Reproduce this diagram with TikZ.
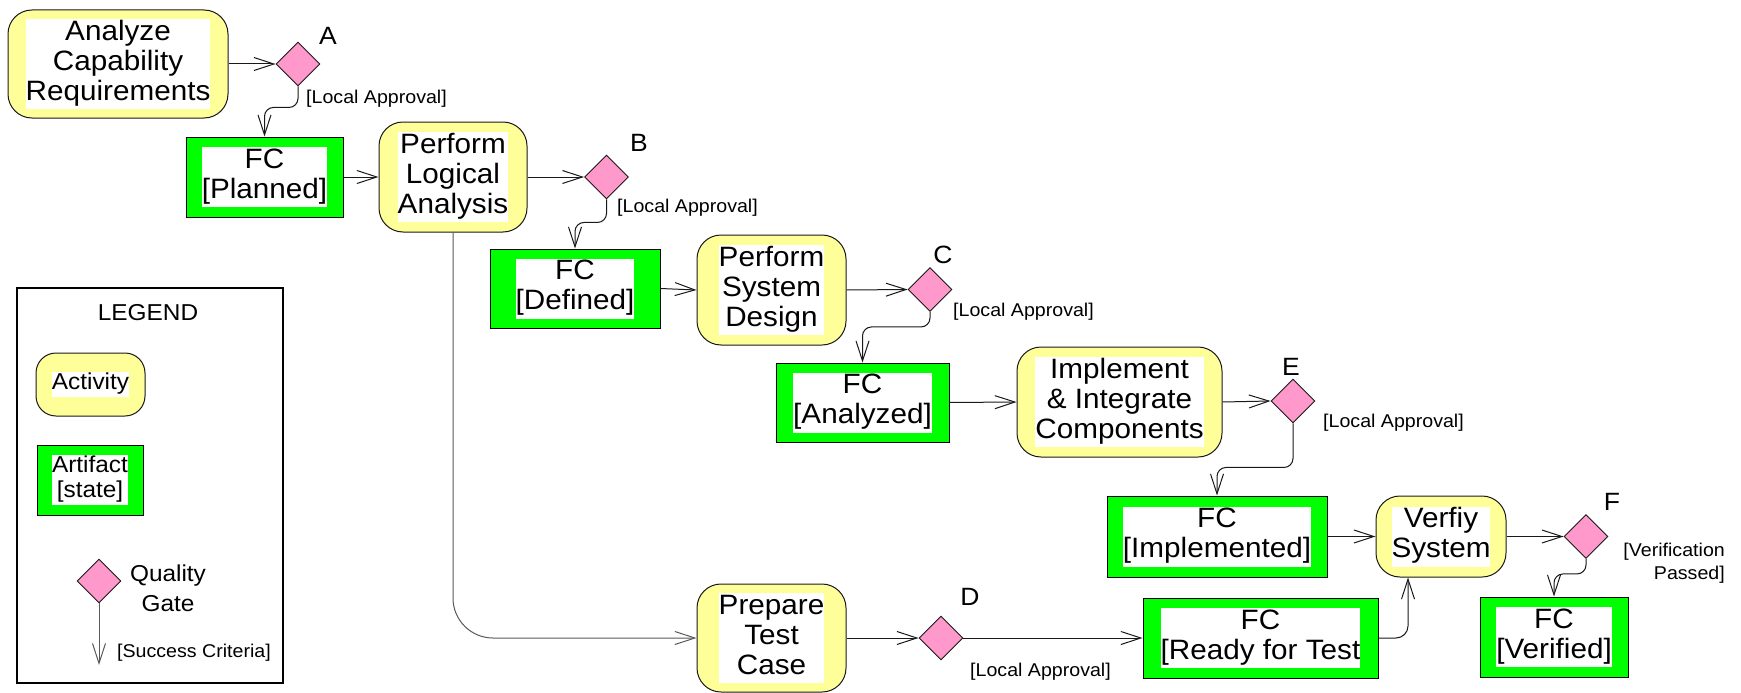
\documentclass[tikz,border=0pt]{standalone}
\usepackage{fontspec}
\setmainfont{Liberation Sans}[FakeStretch=1.06]
\usetikzlibrary{arrows.meta,shapes.geometric}
\definecolor{actyellow}{RGB}{255,255,153}
\definecolor{artgreen}{RGB}{0,255,0}
\definecolor{gatepink}{RGB}{255,153,204}
\newcommand{\wbox}[1]{{\setlength{\fboxsep}{0pt}\colorbox{white}{\begin{tabular}{@{}c@{}}#1\end{tabular}}}}

\begin{document}
\begin{tikzpicture}[x=1pt,y=-1pt]
                \tikzstyle{every node}+=[inner sep=0pt]
                \tikzstyle{activity}=[draw=black!90, line width=1pt, fill=actyellow, rounded corners=24pt, font=\fontsize{28}{30}\selectfont]
                \tikzstyle{artifact}=[draw=black, line width=1pt, fill=artgreen, font=\fontsize{28}{30}\selectfont]
                \tikzstyle{gate}=[diamond, draw=black!90, line width=0.9pt, fill=gatepink, minimum size=44pt]
                \tikzstyle{gateletter}=[font=\fontsize{25}{30}\selectfont]
                \tikzstyle{criteria}=[anchor=west, font=\fontsize{18.5}{23}\selectfont]
                \tikzstyle{flow}=[draw=black!90, line width=1pt, -{Straight Barb[length=20pt,width=13pt]}]
                \useasboundingbox (0,0) rectangle (1741,693);
                % activities
                \node [activity, minimum width=220pt, minimum height=108pt] (acr) at (118,64) {\wbox{Analyze\\Capability\\Requirements}};
                \node [activity, minimum width=148pt, minimum height=110pt] (pla) at (453,177) {\wbox{Perform\\Logical\\Analysis}};
                \node [activity, minimum width=149pt, minimum height=110pt] (psd) at (771.5,290) {\wbox{Perform\\System\\Design}};
                \node [activity, minimum width=205pt, minimum height=110pt] (iic) at (1119.5,402) {\wbox{Implement\\\& Integrate\\Components}};
                \node [activity, minimum width=130pt, minimum height=81pt] (vs) at (1441,536.5) {\wbox{Verfiy\\System}};
                \node [activity, minimum width=149pt, minimum height=108pt] (ptc) at (771.5,638) {\wbox{Prepare\\Test\\Case}};
                % artifacts
                \node [artifact, minimum width=157pt, minimum height=80pt] (fcp) at (264.5,177) {\wbox{FC\\{[Planned]}}};
                \node [artifact, minimum width=170pt, minimum height=79pt] (fcd) at (575,288.5) {\wbox{FC\\{[Defined]}}};
                \node [artifact, minimum width=173pt, minimum height=79pt] (fca) at (862.5,402.5) {\wbox{FC\\{[Analyzed]}}};
                \node [artifact, minimum width=220pt, minimum height=81pt] (fci) at (1217,536.5) {\wbox{FC\\{[Implemented]}}};
                \node [artifact, minimum width=235pt, minimum height=80pt] (fcr) at (1260.5,638) {\wbox{FC\\{[Ready for Test}}};
                \node [artifact, minimum width=148pt, minimum height=80pt] (fcv) at (1554,637) {\wbox{FC\\{[Verified]}}};
                % quality gates
                \node [gate] (gA) at (298,64) {};
                \node [gate] (gB) at (606.5,177) {};
                \node [gate] (gC) at (930,289.5) {};
                \node [gate] (gD) at (941,638) {};
                \node [gate] (gE) at (1293,401) {};
                \node [gate] (gF) at (1586,536.5) {};
                \node [gateletter] (lA) at (328,36) {A};
                \node [gateletter] (lB) at (639,143) {B};
                \node [gateletter] (lC) at (943,255) {C};
                \node [gateletter] (lD) at (970,597) {D};
                \node [gateletter] (lE) at (1291,367) {E};
                \node [gateletter] (lF) at (1612,502) {F};
                \node [criteria] (cA) at (306,99) {[Local Approval]};
                \node [criteria] (cB) at (617,208) {[Local Approval]};
                \node [criteria] (cC) at (953,312) {[Local Approval]};
                \node [criteria] (cD) at (970,672) {[Local Approval]};
                \node [criteria] (cE) at (1323,423) {[Local Approval]};
                \node [anchor=east, align=right, font=\fontsize{18.5}{23}\selectfont] (cF) at (1725,563) {[Verification\\Passed]};
                % flows
                \draw [flow] (acr.east) -- (gA.west);
                \draw [flow, rounded corners=9pt] (gA.south) -- ++(0,21) -| (fcp.north);
                \draw [flow] (fcp.east) -- (pla.west);
                \draw [flow] (pla.east) -- (gB.west);
                \draw [flow, rounded corners=9pt] (gB.south) -- ++(0,23) -| (fcd.north);
                \draw [flow] (fcd.east) -- (psd.west);
                \draw [flow] (psd.east) -- (gC.west);
                \draw [flow, rounded corners=9pt] (gC.south) -- ++(0,15) -| (fca.north);
                \draw [flow] (fca.east) -- (iic.west);
                \draw [flow] (iic.east) -- (gE.west);
                \draw [flow, rounded corners=9pt] (gE.south) -- ++(0,44) -| (fci.north);
                \draw [flow] (fci.east) -- (vs.west);
                \draw [flow] (vs.east) -- (gF.west);
                \draw [flow, rounded corners=9pt] (gF.south) -- ++(0,15) -| (fcv.north);
                \draw [flow, draw=black!65, rounded corners=40pt] (pla.south) |- (ptc.west);
                \draw [flow] (ptc.east) -- (gD.west);
                \draw [flow] (gD.east) -- (fcr.west);
                \draw [flow, rounded corners=12pt] (fcr.east) -| ([xshift=-33pt]vs.south);
                % legend
                \node [draw, line width=2.5pt, minimum width=266pt, minimum height=395pt] (legend) at (150,485.5) {};
                \node [font=\fontsize{23}{25}\selectfont] (legendtitle) at (148,313) {LEGEND};
                \node [activity, rounded corners=20pt, minimum width=109pt, minimum height=63pt, font=\fontsize{23}{25}\selectfont] (lact) at (90.5,384.5) {\wbox{Activity}};
                \node [artifact, minimum width=106pt, minimum height=70pt, font=\fontsize{23}{25}\selectfont] (lart) at (90,480) {\wbox{Artifact\\{[state]}}};
                \node [gate] (gL) at (99,581) {};
                \node [align=center, font=\fontsize{23}{30}\selectfont] (lgate) at (168,588) {Quality\\Gate};
                \coordinate (lend) at (99,665);
                \draw [flow, draw=black!65] (gL.south) -- (lend);
                \node [criteria] (lcrit) at (117,653) {[Success Criteria]};
\end{tikzpicture}
\end{document}
